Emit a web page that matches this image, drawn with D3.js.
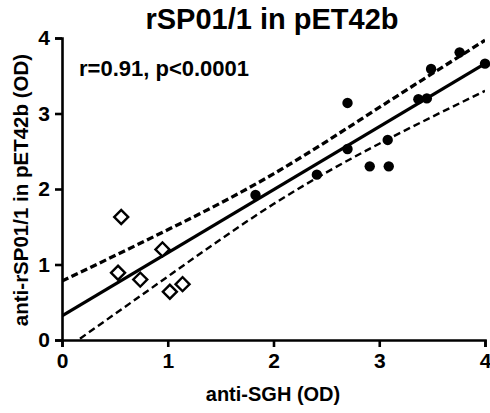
<!DOCTYPE html>
<html>
<head>
<meta charset="utf-8">
<script src="https://cdn.jsdelivr.net/npm/d3@7"></script>
<style>
    body { margin: 0; background: #fff; }
    svg { display: block; }
    text { font-family: "Liberation Sans", Arial, Helvetica, sans-serif; font-weight: bold; fill: #000; }
</style>
</head>
<body>
<div class="container"></div>
<script>
// DATA
// open diamonds (low group)
const openX = [0.56, 0.53, 0.74, 0.95, 1.02, 1.14];
const openY = [1.63, 0.89, 0.80, 1.20, 0.64, 0.74];

// filled circles (high group)
const filledX = [1.83, 2.41, 2.70, 2.70, 2.91, 3.09, 3.08, 3.37, 3.45, 3.49, 3.76, 4.00];
const filledY = [1.92, 2.19, 3.14, 2.53, 2.30, 2.30, 2.65, 3.19, 3.20, 3.59, 3.81, 3.66];

// regression line and 95% confidence band
const fitX = [0, 4];
const fitY = [0.32, 3.66];
const bandX = [0, 1, 2, 3, 4];
const bandUpper = [0.78, 1.46, 2.20, 3.08, 3.97];
const bandLower = [-0.15, 0.84, 1.80, 2.60, 3.30];

const tickValues = [0, 1, 2, 3, 4];


// Create margins
const margin = {
    top: 38,
    right: 5,
    bottom: 73,
    left: 62
}

// create dimentions
const width = 490 - margin.left - margin.right;
const hight = 413 - margin.top - margin.bottom;


// create Canvas
const canvas = d3.select('.container')
    .append('svg')
    .attr('width', 490)
    .attr('height', 413);

const group = canvas.append('g')
    .attr('transform', `translate(${margin.left}, ${margin.top})`);


// Create Scales
const xScale = d3.scaleLinear()
    .domain([0, 4])
    .range([0, width]);

const yScale = d3.scaleLinear()
    .domain([0, 4])
    .range([hight, 0]);


// clip the lines to the plot area
canvas.append('defs')
    .append('clipPath')
    .attr('id', 'plot-clip')
    .append('rect')
    .attr('x', 0)
    .attr('y', 0)
    .attr('width', width)
    .attr('height', hight);

const lines = group.append('g')
    .attr('clip-path', 'url(#plot-clip)');

const band = (ys) => d3.line()
    .x((d, i) => xScale(bandX[i]))
    .y(d => yScale(d))
    .curve(d3.curveNatural)(ys);

// upper band (heavier dashes)
lines.append('path')
    .attr('d', band(bandUpper))
    .attr('fill', 'none')
    .attr('stroke', '#000')
    .attr('stroke-width', 3.3)
    .attr('stroke-dasharray', '7,3.5');

// lower band
lines.append('path')
    .attr('d', band(bandLower))
    .attr('fill', 'none')
    .attr('stroke', '#000')
    .attr('stroke-width', 2.4)
    .attr('stroke-dasharray', '7,4');

// regression line
lines.append('path')
    .attr('d', d3.line()
        .x((d, i) => xScale(fitX[i]))
        .y(d => yScale(d))(fitY))
    .attr('fill', 'none')
    .attr('stroke', '#000')
    .attr('stroke-width', 3.3);


// Create Axes
const xAxis = d3.axisBottom(xScale)
    .tickValues(tickValues)
    .tickSizeOuter(0)
    .tickSize(7)
    .tickPadding(6)
    .tickFormat(d3.format('d'));

const yAxis = d3.axisLeft(yScale)
    .tickValues(tickValues)
    .tickSizeOuter(0)
    .tickSize(7)
    .tickPadding(5)
    .tickFormat(d3.format('d'));

const gx = group.append('g')
    .attr('id', 'x-axis')
    .attr('transform', `translate(0, ${hight})`)
    .call(xAxis);

const gy = group.append('g')
    .attr('id', 'y-axis')
    .call(yAxis);

[gx, gy].forEach(g => {
    g.select('.domain')
        .attr('stroke-width', 2.6);
    g.selectAll('.tick line')
        .attr('stroke-width', 2.6);
    g.selectAll('.tick text')
        .style('font-size', '21px')
        .style('font-weight', 'bold');
});


// Plot dots
group.selectAll('circle.filled')
    .data(filledX)
    .enter()
    .append('circle')
    .attr('class', 'filled')
    .attr('cx', d => xScale(d))
    .attr('cy', (d, i) => yScale(filledY[i]))
    .attr('r', 5.2)
    .attr('fill', '#000');

const diamond = d3.symbol().type(d3.symbolSquare).size(98);

group.selectAll('path.open')
    .data(openX)
    .enter()
    .append('path')
    .attr('class', 'open')
    .attr('d', diamond)
    .attr('transform', (d, i) => `translate(${xScale(d)}, ${yScale(openY[i])}) rotate(45)`)
    .attr('fill', '#fff')
    .attr('stroke', '#000')
    .attr('stroke-width', 2.4);


// Titles
canvas.append('text')
    .attr('id', 'title')
    .attr('x', 272)
    .attr('y', 29)
    .attr('text-anchor', 'middle')
    .style('font-size', '29px')
    .text('rSP01/1 in pET42b');

canvas.append('text')
    .attr('x', 79)
    .attr('y', 76)
    .style('font-size', '22px')
    .text('r=0.91, p<0.0001');

canvas.append('text')
    .attr('x', 273)
    .attr('y', 401)
    .attr('text-anchor', 'middle')
    .style('font-size', '20px')
    .text('anti-SGH (OD)');

canvas.append('text')
    .attr('transform', 'translate(28, 190) rotate(-90)')
    .attr('text-anchor', 'middle')
    .style('font-size', '20.5px')
    .text('anti-rSP01/1 in pET42b (OD)');
</script>
</body>
</html>
